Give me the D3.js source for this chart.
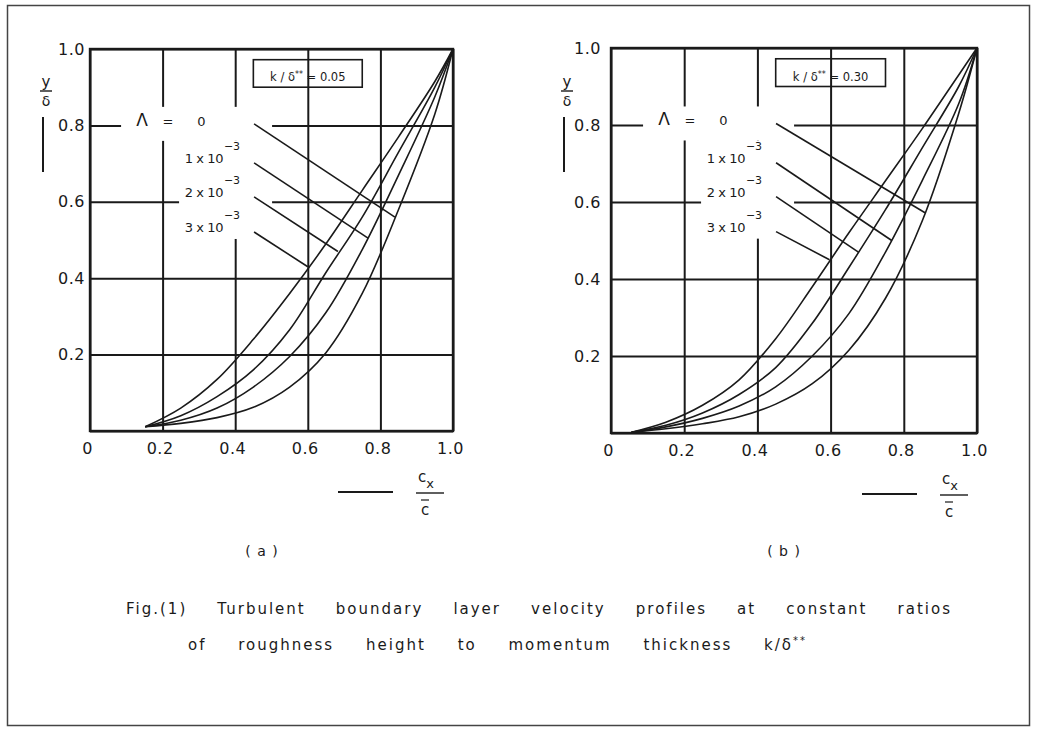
<!DOCTYPE html>
<html>
<head>
<meta charset="utf-8">
<script src="https://cdn.jsdelivr.net/npm/d3@7"></script>
<style>
  body { margin: 0; background: #fff; }
  svg text { font-family: "DejaVu Sans", sans-serif; fill: #1a1a1a; }
</style>
</head>
<body>
<svg id="fig" width="1037" height="734"></svg>
<script>
/* ---- DATA ---- */
const ticks = [0, 0.2, 0.4, 0.6, 0.8, 1.0]
const xTickLabels = ['0', '0.2', '0.4', '0.6', '0.8', '1.0']
const yTickLabels = ['', '0.2', '0.4', '0.6', '0.8', '1.0']
const lambdaLabels = ['0', '1 x 10', '2 x 10', '3 x 10']
const lambdaExp = ['', '−3', '−3', '−3']
const kRatios = ['0.05', '0.30']
const panelNames = ['( a )', '( b )']

// (a) k/δ** = 0.05 ; one profile per Λ (c_x/c̄ , y/δ)
const aX = [0.152, 0.25, 0.35, 0.45, 0.55, 0.65, 0.75, 0.85, 0.95, 1]
const aL0y = [0.011, 0.02, 0.035, 0.062, 0.115, 0.205, 0.36, 0.58, 0.83, 1]
const aL1y = [0.011, 0.028, 0.06, 0.115, 0.195, 0.31, 0.475, 0.67, 0.875, 1]
const aL2y = [0.011, 0.04, 0.09, 0.16, 0.265, 0.415, 0.56, 0.73, 0.9, 1]
const aL3y = [0.011, 0.06, 0.135, 0.24, 0.36, 0.49, 0.63, 0.77, 0.915, 1]
// label pointers (a)
const aPtrX0 = 0.452
const aPtrY0 = [0.804, 0.702, 0.613, 0.521]
const aPtrX1 = [0.84, 0.766, 0.683, 0.60]
const aPtrY1 = [0.56, 0.505, 0.47, 0.43]

// (b) k/δ** = 0.30
const bX = [0.056, 0.15, 0.25, 0.35, 0.45, 0.55, 0.65, 0.75, 0.85, 0.95, 1]
const bL0y = [0.002, 0.011, 0.024, 0.042, 0.075, 0.128, 0.215, 0.35, 0.55, 0.83, 1]
const bL1y = [0.002, 0.016, 0.038, 0.07, 0.12, 0.2, 0.31, 0.47, 0.655, 0.855, 1]
const bL2y = [0.002, 0.02, 0.052, 0.1, 0.17, 0.285, 0.43, 0.58, 0.74, 0.9, 1]
const bL3y = [0.002, 0.028, 0.072, 0.138, 0.245, 0.38, 0.52, 0.655, 0.79, 0.93, 1]
// label pointers (b)
const bPtrX0 = 0.451
const bPtrY0 = [0.804, 0.702, 0.614, 0.523]
const bPtrX1 = [0.858, 0.767, 0.676, 0.597]
const bPtrY1 = [0.572, 0.5, 0.47, 0.45]

const captionLine1 = 'Fig.(1) Turbulent boundary layer velocity profiles at constant ratios'
const captionLine2 = 'of roughness height to momentum thickness k/δ'

/* ---- LAYOUT ---- */
const ink = '#1a1a1a'
const zip = (xs, ys) => xs.map((v, i) => [v, ys[i]])
const panels = [
  { left: 90, right: 453, top: 49, bottom: 431, pad: 5,
    curves: [zip(aX, aL0y), zip(aX, aL1y), zip(aX, aL2y), zip(aX, aL3y)],
    px0: aPtrX0, py0: aPtrY0, px1: aPtrX1, py1: aPtrY1, k: kRatios[0], name: panelNames[0], nameX: 262 },
  { left: 611, right: 977, top: 48, bottom: 433, pad: 10,
    curves: [zip(bX, bL0y), zip(bX, bL1y), zip(bX, bL2y), zip(bX, bL3y)],
    px0: bPtrX0, py0: bPtrY0, px1: bPtrX1, py1: bPtrY1, k: kRatios[1], name: panelNames[1], nameX: 784 }
]

const svg = d3.select('#fig')

// page frame
svg.append('rect').attr('x', 7.5).attr('y', 5.5).attr('width', 1022).attr('height', 720)
  .attr('fill', 'none').attr('stroke', '#444').attr('stroke-width', 1.5)

function drawPanel(p) {
  const x = d3.scaleLinear().domain([0, 1]).range([p.left, p.right])
  const y = d3.scaleLinear().domain([0, 1]).range([p.bottom, p.top])
  const g = svg.append('g')
  const w = p.right - p.left, h = p.bottom - p.top

  // vertical grid + x ticks
  g.append('g').attr('transform', `translate(0,${p.bottom})`)
    .call(d3.axisBottom(x).tickValues(ticks).tickFormat((d, i) => xTickLabels[i])
      .tickSizeInner(-h).tickSizeOuter(0).tickPadding(12))
    .call(a => a.select('.domain').remove())
    .call(a => a.selectAll('line').attr('stroke', ink).attr('stroke-width', 2))
    .call(a => a.selectAll('text').attr('font-size', 16).attr('dx', -3).attr('letter-spacing', 0.5))

  // horizontal grid + y ticks
  g.append('g').attr('transform', `translate(${p.left},0)`)
    .call(d3.axisLeft(y).tickValues(ticks).tickFormat((d, i) => yTickLabels[i])
      .tickSizeInner(-w).tickSizeOuter(0).tickPadding(p.pad))
    .call(a => a.select('.domain').remove())
    .call(a => a.selectAll('line').attr('stroke', ink).attr('stroke-width', 2))
    .call(a => a.selectAll('text').attr('font-size', 16).attr('letter-spacing', 0.5))

  // frame
  g.append('rect').attr('x', p.left).attr('y', p.top).attr('width', w).attr('height', h)
    .attr('fill', 'none').attr('stroke', ink).attr('stroke-width', 2.4)

  // gaps in the grid behind the Λ labels
  const sx = x(p.px0)
  const r0 = y(p.py0[0])
  g.append('rect').attr('x', sx - 133).attr('y', r0 - 17).attr('width', 151).attr('height', 34).attr('fill', '#fff')
  g.append('rect').attr('x', sx - 75).attr('y', r0 + 17).attr('width', 93)
    .attr('height', y(p.py0[3]) - r0 - 10).attr('fill', '#fff')

  // k/δ** box
  g.append('rect').attr('x', x(0.45)).attr('y', y(0.972)).attr('width', x(0.75) - x(0.45))
    .attr('height', y(0.9) - y(0.972)).attr('fill', 'none').attr('stroke', ink).attr('stroke-width', 1.6)
  const kt = g.append('text').attr('x', x(0.6)).attr('y', y(0.915)).attr('text-anchor', 'middle')
    .attr('font-size', 11.5)
  kt.append('tspan').text('k / δ')
  kt.append('tspan').attr('dy', -4).attr('font-size', 8).text('**')
  kt.append('tspan').attr('dy', 4).text(' = ' + p.k)

  // profiles
  const line = d3.line().x(d => x(d[0])).y(d => y(d[1])).curve(d3.curveCatmullRom.alpha(0.5))
  g.selectAll('path.prof').data(p.curves).join('path').attr('class', 'prof')
    .attr('d', line).attr('fill', 'none').attr('stroke', ink).attr('stroke-width', 1.6)

  // pointers
  g.selectAll('line.ptr').data(p.py0).join('line').attr('class', 'ptr')
    .attr('x1', sx).attr('y1', d => y(d))
    .attr('x2', (d, i) => x(p.px1[i])).attr('y2', (d, i) => y(p.py1[i]))
    .attr('stroke', ink).attr('stroke-width', 1.6)

  // Λ labels
  g.append('text').attr('x', sx - 112).attr('y', r0 + 2).attr('text-anchor', 'middle')
    .attr('font-size', 17).text('Λ')
  g.append('text').attr('x', sx - 86).attr('y', r0 + 2).attr('text-anchor', 'middle')
    .attr('font-size', 13).text('=')
  lambdaLabels.forEach((lab, i) => {
    const t = g.append('text').attr('x', i === 0 ? sx - 49 : sx - 31).attr('y', y(p.py0[i]) + (i === 0 ? 2 : 0))
      .attr('text-anchor', 'end').attr('font-size', 13).attr('letter-spacing', -0.4)
    t.append('tspan').text(lab)
    if (lambdaExp[i]) {
      t.append('tspan').attr('x', sx - 30).attr('dy', -13).attr('text-anchor', 'start')
        .attr('font-size', 11).text(lambdaExp[i])
    }
  })

  // y axis label y/δ
  const ly = p.left - 44
  g.append('text').attr('x', ly).attr('y', 87).attr('text-anchor', 'middle').attr('font-size', 15).text('y')
  g.append('line').attr('x1', ly - 6).attr('x2', ly + 6).attr('y1', 91).attr('y2', 91).attr('stroke', ink).attr('stroke-width', 1.4)
  g.append('text').attr('x', ly).attr('y', 106).attr('text-anchor', 'middle').attr('font-size', 14).text('δ')
  g.append('line').attr('x1', ly - 3).attr('x2', ly - 3).attr('y1', 117).attr('y2', 172).attr('stroke', ink).attr('stroke-width', 2)

  // x axis label c_x / c̄
  const lx = p.right - 23, by = p.bottom
  g.append('line').attr('x1', p.right - 115).attr('x2', p.right - 60).attr('y1', by + 61).attr('y2', by + 61)
    .attr('stroke', ink).attr('stroke-width', 2)
  const ct = g.append('text').attr('x', lx - 4).attr('y', by + 51).attr('text-anchor', 'middle').attr('font-size', 15)
  ct.append('tspan').text('c')
  ct.append('tspan').attr('dy', 6).attr('font-size', 13).text('x')
  g.append('line').attr('x1', lx - 14).attr('x2', lx + 14).attr('y1', by + 62).attr('y2', by + 62).attr('stroke', ink).attr('stroke-width', 1.4)
  g.append('text').attr('x', lx - 5).attr('y', by + 84).attr('text-anchor', 'middle').attr('font-size', 15).text('c')
  g.append('line').attr('x1', lx - 9).attr('x2', lx - 1).attr('y1', by + 69).attr('y2', by + 69).attr('stroke', ink).attr('stroke-width', 1.2)

  // panel name
  svg.append('text').attr('x', p.nameX).attr('y', 556).attr('text-anchor', 'middle')
    .attr('font-size', 14).attr('letter-spacing', 1).text(p.name)
}

panels.forEach(drawPanel)

// caption, spread between the edges of the reference lines
const c1 = svg.append('text').attr('x', 126).attr('y', 614).attr('font-size', 15).attr('letter-spacing', 2)
  .text(captionLine1)
c1.attr('word-spacing', (826 - c1.node().getComputedTextLength()) / 8)
const c2 = svg.append('text').attr('x', 188).attr('y', 650).attr('font-size', 15).attr('letter-spacing', 2)
c2.append('tspan').text(captionLine2)
c2.append('tspan').attr('dy', -6).attr('font-size', 10).text('**')
c2.attr('word-spacing', (594 - c2.node().getComputedTextLength()) / 5)
</script>
</body>
</html>
